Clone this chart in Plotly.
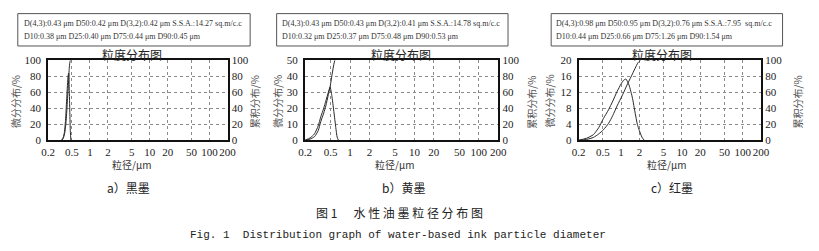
import plotly.graph_objects as go

# ---------------- data ----------------
x_tickvals = [0.2, 0.5, 1, 2, 5, 10, 20, 50, 100, 200]
x_ticktext = ["0.2", "0.5", "1", "2", "5", "10", "20", "50", "100", "200"]

# a) black ink
a_diff_size = [0.33, 0.35, 0.37, 0.39, 0.41, 0.43, 0.44, 0.45, 0.46, 0.47, 0.48]
a_diff = [0, 2, 8, 25, 55, 80, 84, 65, 35, 10, 0]
a_cum_size = [0.34, 0.36, 0.38, 0.40, 0.42, 0.44, 0.45, 0.46, 0.47]
a_cum = [0, 3, 10, 25, 50, 75, 90, 97, 100]

# b) yellow ink
b_diff_size = [0.2, 0.24, 0.28, 0.32, 0.35, 0.39, 0.42, 0.46, 0.49, 0.52, 0.56, 0.60, 0.63, 0.66]
b_diff = [0, 1.5, 4, 9, 14.5, 20, 24.5, 30, 33.3, 28, 18, 8, 2, 0]
b_cum_size = [0.2, 0.24, 0.28, 0.32, 0.35, 0.39, 0.42, 0.46, 0.49, 0.53, 0.56, 0.58]
b_cum = [0, 1.5, 4.4, 12, 23, 34, 43, 57, 67, 84, 95, 100]

# c) red ink
c_diff_size = [0.2, 0.27, 0.35, 0.43, 0.51, 0.62, 0.73, 0.86, 1.0, 1.1, 1.2, 1.35, 1.54, 1.64, 1.85, 2.0, 2.2, 2.4]
c_diff = [0, 0.5, 1.4, 3.2, 5.4, 7.6, 9.8, 12.2, 14.1, 15.0, 15.3, 13.8, 10.5, 8.2, 4.0, 2.4, 0.8, 0]
c_cum_size = [0.2, 0.27, 0.35, 0.43, 0.51, 0.62, 0.73, 0.86, 1.06, 1.25, 1.45, 1.7, 1.9, 2.09]
c_cum = [0, 1, 3.5, 8, 13, 21, 31, 43, 57, 69, 79, 90, 97, 100]

left_ticks_a = [0, 20, 40, 60, 80, 100]
left_ticks_b = [0, 10, 20, 30, 40, 50]
left_ticks_c = [0, 4, 8, 12, 16, 20]
right_ticks = [0, 20, 40, 60, 80, 100]

headers = [
    ["D(4,3):0.43 μm D50:0.42 μm D(3,2):0.42 μm S.S.A.:14.27 sq.m/c.c",
     "D10:0.38 μm D25:0.40 μm D75:0.44 μm D90:0.45 μm"],
    ["D(4,3):0.43 μm D50:0.43 μm D(3,2):0.41 μm S.S.A.:14.78 sq.m/c.c",
     "D10:0.32 μm D25:0.37 μm D75:0.48 μm D90:0.53 μm"],
    ["D(4,3):0.98 μm D50:0.95 μm D(3,2):0.76 μm S.S.A.:7.95  sq.m/c.c",
     "D10:0.44 μm D25:0.66 μm D75:1.26 μm D90:1.54 μm"],
]
captions = ["a）黑墨", "b）黄墨", "c）红墨"]
plot_title = "粒度分布图"
left_title = "微分分布/%"
right_title = "累积分布/%"
x_title = "粒径/μm"
fig_title_cn = "图 1 &nbsp;&nbsp;&nbsp;&nbsp; 水 性 油 墨 粒 径 分 布 图"
fig_title_en = "Fig. 1  Distribution graph of water-based ink particle diameter"

# ---------------- layout helpers ----------------
W, H = 819, 251
def px(x):
    return x / W
def py(y):
    return 1 - y / H

panels = [
    dict(l=42, r=225, diff=(a_diff_size, a_diff), cum=(a_cum_size, a_cum), lt=left_ticks_a,
         box=(11, 248), txt_x=15, title_x=128, xt_x=127, cap_x=124, ly_x=8, ry_x=252),
    dict(l=304, r=501, diff=(b_diff_size, b_diff), cum=(b_cum_size, b_cum), lt=left_ticks_b,
         box=(275, 511), txt_x=278, title_x=402, xt_x=395, cap_x=404, ly_x=276, ry_x=535),
    dict(l=583, r=769, diff=(c_diff_size, c_diff), cum=(c_cum_size, c_cum), lt=left_ticks_c,
         box=(555, 791), txt_x=558, title_x=668, xt_x=673, cap_x=678, ly_x=553, ry_x=806),
]
TOP, BOT = 57, 141

SERIF = "Liberation Serif"
CJK = "Noto Sans CJK SC"
line_col = "#2a2a2a"

fig = go.Figure()
layout = dict(width=W, height=H, autosize=False, margin=dict(l=0, r=0, t=0, b=0),
              paper_bgcolor="white", plot_bgcolor="white", showlegend=False)
annotations = []
shapes = []

for i, p in enumerate(panels):
    n = i + 1
    xa = "x" if n == 1 else f"x{n}"
    yl = 2 * i + 1
    yr = 2 * i + 2
    yla = "y" if yl == 1 else f"y{yl}"
    yra = f"y{yr}"
    fig.add_trace(go.Scatter(x=p["diff"][0], y=p["diff"][1], xaxis=xa, yaxis=yla, mode="lines",
                             line=dict(color=line_col, width=1, shape="spline", smoothing=0.6),
                             hoverinfo="skip"))
    fig.add_trace(go.Scatter(x=p["cum"][0], y=p["cum"][1], xaxis=xa, yaxis=yra, mode="lines",
                             line=dict(color=line_col, width=1, shape="spline", smoothing=0.6),
                             hoverinfo="skip"))
    xkey = "xaxis" if n == 1 else f"xaxis{n}"
    ylkey = "yaxis" if yl == 1 else f"yaxis{yl}"
    yrkey = f"yaxis{yr}"
    layout[xkey] = dict(type="log", range=[-0.69897, 2.30103], domain=[px(p["l"]), px(p["r"])],
                        anchor=yla, tickvals=x_tickvals, ticktext=x_ticktext, tickangle=0,
                        showgrid=True, gridcolor="#8a8a8a", griddash="dot", gridwidth=1,
                        showline=True, linecolor="#111", linewidth=2, mirror=True,
                        ticks="outside", ticklen=1, tickcolor="rgba(0,0,0,0)",
                        tickfont=dict(family=SERIF, size=11, color="#222"), zeroline=False)
    lt = p["lt"]
    layout[ylkey] = dict(range=[lt[0], lt[-1]], domain=[py(BOT), py(TOP)], anchor=xa,
                         tickvals=lt, showgrid=True, gridcolor="#8a8a8a", griddash="dot", gridwidth=1,
                         showline=True, linecolor="#111", linewidth=2, mirror=True,
                         ticks="outside", ticklen=3, tickcolor="rgba(0,0,0,0)",
                         tickfont=dict(family=SERIF, size=11, color="#222"), zeroline=False)
    layout[yrkey] = dict(range=[0, 100], overlaying=yla, side="right", anchor=xa,
                         tickvals=right_ticks, showgrid=False, showline=False,
                         ticks="outside", ticklen=1, tickcolor="rgba(0,0,0,0)",
                         tickfont=dict(family=SERIF, size=11, color="#222"), zeroline=False)
    # header box
    shapes.append(dict(type="rect", xref="paper", yref="paper", x0=px(p["box"][0]), x1=px(p["box"][1]),
                       y0=py(42), y1=py(8), line=dict(color="#555", width=1)))
    for j, t in enumerate(headers[i]):
        annotations.append(dict(text=t, xref="paper", yref="paper", x=px(p["txt_x"]), y=py(18 + 14 * j),
                                xanchor="left", yanchor="middle", showarrow=False,
                                font=dict(family=SERIF, size=8, color="#333")))
    annotations.append(dict(text=plot_title, xref="paper", yref="paper", x=px(p["title_x"]), y=py(51),
                            xanchor="center", yanchor="middle", showarrow=False,
                            font=dict(family=CJK, size=12, color="#222")))
    annotations.append(dict(text=x_title, xref="paper", yref="paper", x=px(p["xt_x"]), y=py(166),
                            xanchor="center", yanchor="middle", showarrow=False,
                            font=dict(family=CJK, size=10, color="#333")))
    annotations.append(dict(text=left_title, xref="paper", yref="paper", x=px(p["ly_x"]), y=py(100),
                            xanchor="center", yanchor="middle", showarrow=False, textangle=-90,
                            font=dict(family=CJK, size=10, color="#555")))
    annotations.append(dict(text=right_title, xref="paper", yref="paper", x=px(p["ry_x"]), y=py(101),
                            xanchor="center", yanchor="middle", showarrow=False, textangle=-90,
                            font=dict(family=CJK, size=10, color="#555")))
    annotations.append(dict(text=captions[i], xref="paper", yref="paper", x=px(p["cap_x"]), y=py(191),
                            xanchor="center", yanchor="middle", showarrow=False,
                            font=dict(family=CJK, size=12, color="#222")))

annotations.append(dict(text=fig_title_cn, xref="paper", yref="paper", x=px(400), y=py(217),
                        xanchor="center", yanchor="middle", showarrow=False,
                        font=dict(family=CJK, size=12, color="#222")))
annotations.append(dict(text=fig_title_en, xref="paper", yref="paper", x=px(399), y=py(240),
                        xanchor="center", yanchor="middle", showarrow=False,
                        font=dict(family="Liberation Mono", size=11, color="#222")))

layout["annotations"] = annotations
layout["shapes"] = shapes
fig.update_layout(**layout)
fig.write_html("out.html")
